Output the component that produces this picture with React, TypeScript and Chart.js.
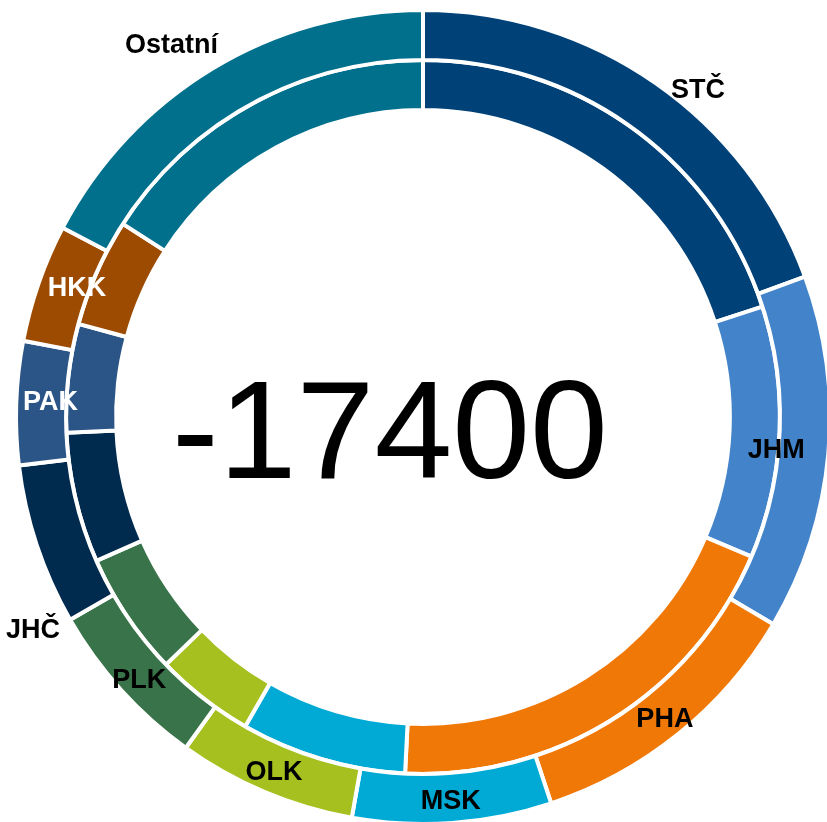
import { useEffect, useRef } from "react";
import { Chart, registerables } from "chart.js";

Chart.register(...registerables);

// ---- data ----
const categories = ["STČ", "JHM", "PHA", "MSK", "OLK", "PLK", "JHČ", "PAK", "HKK", "Ostatní"];
const outerValues = [19.4, 14.1, 11.4, 7.9, 7.1, 6.8, 6.4, 4.9, 4.7, 17.3];
const innerValues = [20.0, 11.4, 19.4, 7.5, 4.5, 5.6, 5.9, 4.9, 4.9, 15.9];
const centerValue = "-17400";

// ---- styles ----
const colors = [
  "#004178", "#4283C9", "#F07806", "#00AAD5", "#A5C01F",
  "#38734A", "#002A4E", "#2C5587", "#9C4B00", "#00708D",
];
const labelColors = ["#000", "#000", "#000", "#000", "#000", "#000", "#000", "#fff", "#fff", "#000"];
// label placement relative to outer arc: fraction along the arc, radius factor of outer radius
const labelAngleFrac = [0.574, 0.503, 0.505, 0.5, 0.494, 0.47, 0.05, 0.51, 0.57, 0.453];
const labelRadiusFactor = [1.049, 0.872, 0.951, 0.948, 0.948, 0.951, 1.093, 0.916, 0.907, 1.103];

const labelPlugin = {
  id: "ringLabels",
  afterDatasetsDraw(chart: any) {
    const ctx = chart.ctx;
    const meta = chart.getDatasetMeta(0);
    ctx.save();
    ctx.font = "bold 27px 'Liberation Sans', Arial, sans-serif";
    ctx.textAlign = "center";
    ctx.textBaseline = "middle";
    let cx = 0, cy = 0;
    meta.data.forEach((arc: any, i: number) => {
      const p = arc.getProps(["x", "y", "startAngle", "endAngle", "outerRadius"], true);
      cx = p.x; cy = p.y;
      const a = p.startAngle + (p.endAngle - p.startAngle) * labelAngleFrac[i];
      const r = p.outerRadius * labelRadiusFactor[i];
      ctx.fillStyle = labelColors[i];
      ctx.fillText(categories[i], p.x + Math.cos(a) * r, p.y + Math.sin(a) * r);
    });
    ctx.font = "140px 'Liberation Sans', Arial, sans-serif";
    ctx.fillStyle = "#000";
    ctx.textBaseline = "alphabetic";
    ctx.fillText(centerValue, cx - 33, cy + 61);
    ctx.restore();
  },
};

export default function App() {
  const ref = useRef<HTMLCanvasElement>(null);
  useEffect(() => {
    if (!ref.current) return;
    const chart = new Chart(ref.current, {
      type: "doughnut",
      data: {
        labels: categories,
        datasets: [
          {
            data: outerValues,
            backgroundColor: colors,
            borderColor: "#ffffff",
            borderWidth: 4,
            hoverBorderWidth: 4,
          },
          {
            data: innerValues,
            backgroundColor: colors,
            borderColor: "#ffffff",
            borderWidth: 4,
            hoverBorderWidth: 4,
          },
        ],
      },
      options: {
        responsive: false,
        animation: false,
        events: [],
        cutout: "75.4%",
        layout: { padding: { left: 14, top: 8, right: 14, bottom: 10 } },
        plugins: {
          legend: { display: false },
          tooltip: { enabled: false },
        },
      },
      plugins: [labelPlugin],
    });
    return () => chart.destroy();
  }, []);
  return (
    <div
      style={{
        position: "fixed",
        left: 0,
        top: 0,
        width: 827,
        height: 822,
        overflow: "hidden",
        background: "#fff",
      }}
    >
      <canvas
        ref={ref}
        width={846}
        height={836}
        style={{ position: "absolute", left: 0, top: 0, width: 846, height: 836 }}
      />
    </div>
  );
}
